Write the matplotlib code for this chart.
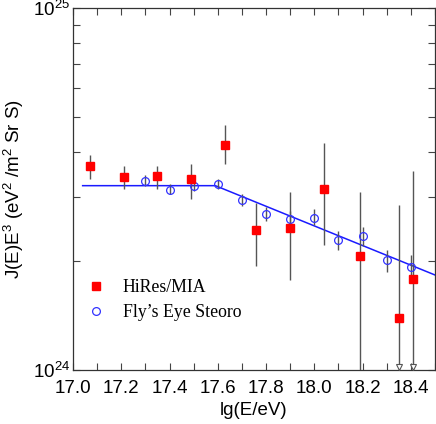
import matplotlib
matplotlib.use("Agg")
import matplotlib.pyplot as plt
import numpy as np
from matplotlib.ticker import LogLocator, NullFormatter, FixedLocator, MultipleLocator

plt.rcParams['font.family'] = ['Liberation Sans', 'DejaVu Sans']
plt.rcParams['mathtext.fontset'] = 'custom'
plt.rcParams['mathtext.rm'] = 'Liberation Sans'
plt.rcParams['mathtext.it'] = 'Liberation Sans'

# HiRes/MIA
hires_x = [17.07, 17.21, 17.35, 17.49, 17.63, 17.76, 17.90, 18.04, 18.19, 18.35, 18.41]
hires_y = [3.65e24, 3.41e24, 3.43e24, 3.38e24, 4.19e24, 2.44e24, 2.46e24, 3.16e24, 2.06e24, 1.39e24, 1.78e24]
hires_hi = [3.93e24, 3.65e24, 3.67e24, 3.70e24, 4.75e24, 2.89e24, 3.10e24, 4.25e24, 3.11e24, 2.86e24, 3.54e24]
hires_lo = [3.37e24, 3.16e24, 3.17e24, 2.97e24, 3.70e24, 1.94e24, 1.77e24, 2.21e24, 1.0e24, 1.0e24, 1.0e24]
hires_upper_limit = [False, False, False, False, False, False, False, False, False, True, True]

# Fly's Eye Stereo
fe_x = [17.3, 17.4, 17.5, 17.6, 17.7, 17.8, 17.9, 18.0, 18.1, 18.2, 18.3, 18.4]
fe_y = [3.33e24, 3.14e24, 3.22e24, 3.26e24, 2.94e24, 2.69e24, 2.61e24, 2.63e24, 2.29e24, 2.34e24, 2.01e24, 1.92e24]
fe_hi = [3.45e24, 3.26e24, 3.32e24, 3.36e24, 3.06e24, 2.82e24, 2.75e24, 2.79e24, 2.42e24, 2.48e24, 2.15e24, 2.08e24]
fe_lo = [3.23e24, 3.06e24, 3.13e24, 3.17e24, 2.83e24, 2.58e24, 2.48e24, 2.52e24, 2.15e24, 2.20e24, 1.87e24, 1.80e24]

# broken power-law fit
fit_x = [17.04, 17.59, 18.5]
fit_y = [3.23e24, 3.23e24, 1.83e24]

xtick_labels = ['17.0', '17.2', '17.4', '17.6', '17.8', '18.0', '18.2', '18.4']

fig = plt.figure(figsize=(4.36, 4.24), dpi=100)
ax = fig.add_axes([73/436, 1 - 370/424, 362/436, 362/424])

ax.set_yscale('log')
ax.set_xlim(17.0, 18.5)
ax.set_ylim(1e24, 1e25)

ecol = '#555555'
ax.plot(fit_x, fit_y, color='#1a1aff', lw=1.1, zorder=2)

fe_err = [np.array(fe_y) - np.array(fe_lo), np.array(fe_hi) - np.array(fe_y)]
ax.errorbar(fe_x, fe_y, yerr=fe_err, fmt='none', ecolor=ecol, elinewidth=1.0, capsize=0, zorder=3)
ax.plot(fe_x, fe_y, 'o', mfc='none', mec='#3333ff', ms=5.6, mew=0.9, ls='none', zorder=4,
        label="Fly\u2019s Eye Steoro")

hr_err = [np.array(hires_y) - np.array(hires_lo), np.array(hires_hi) - np.array(hires_y)]
ax.errorbar(hires_x, hires_y, yerr=hr_err, fmt='none', ecolor=ecol, elinewidth=1.0, capsize=0, zorder=3)
ax.plot(hires_x, hires_y, 's', color='#ff0000', mec='#ff0000', ms=5.4, ls='none', zorder=5,
        label='HiRes/MIA')

for x, lo, ul in zip(hires_x, hires_lo, hires_upper_limit):
    if ul:
        ax.plot([x], [lo * 1.018], marker='v', mfc='white', mec=ecol, ms=5, mew=0.8,
                ls='none', zorder=6, clip_on=False)

ax.set_xticks([float(t) for t in xtick_labels])
ax.set_xticklabels(xtick_labels)
ax.xaxis.set_minor_locator(MultipleLocator(0.1))
ax.yaxis.set_major_locator(FixedLocator([1e24, 1e25]))
ax.yaxis.set_minor_locator(LogLocator(base=10, subs=np.arange(2, 10)))
ax.yaxis.set_minor_formatter(NullFormatter())
ax.set_yticklabels([r'$10^{24}$', r'$10^{25}$'])

ax.tick_params(which='both', direction='in', top=True, right=True, labelsize=13.5,
               width=0.8, color='#444444')
ax.tick_params(which='major', length=5)
ax.tick_params(which='minor', length=5)
ax.tick_params(axis='x', pad=7)
ax.tick_params(axis='y', pad=2)
for s in ax.spines.values():
    s.set_linewidth(0.9)
    s.set_color('#333333')

ax.set_xlabel('lg(E/eV)', fontsize=13.5, labelpad=4)
ax.set_ylabel(r'J(E)E$^3$ (eV$^2$ /m$^2$ Sr S)', fontsize=13.5, labelpad=5)

h, l = ax.get_legend_handles_labels()
leg = ax.legend(h[::-1], l[::-1], loc='upper left', bbox_to_anchor=(0.0, 0.285),
                frameon=False, prop={'family': 'Liberation Serif', 'size': 12.8},
                handletextpad=0.9, labelspacing=0.45, handlelength=1.2, borderaxespad=0.3)

fig.savefig('out.png', dpi=100)
